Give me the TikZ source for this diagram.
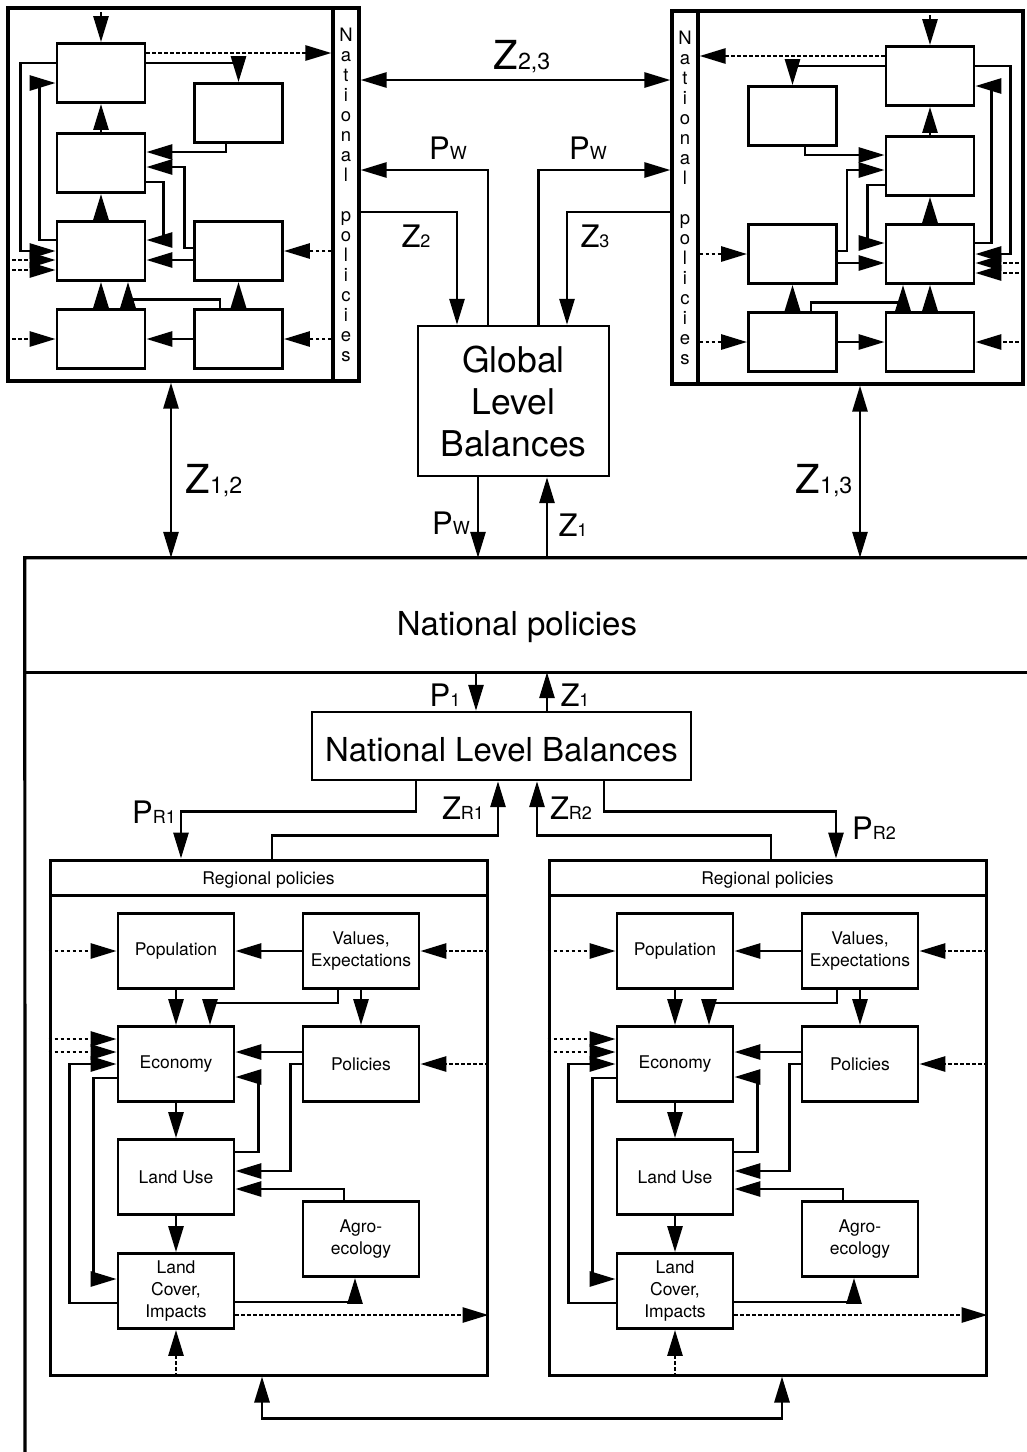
\documentclass[tikz,border=0pt]{standalone}
\usepackage{fontspec}
\setmainfont{TeX Gyre Heros}
\usepackage{graphicx}
\usetikzlibrary{arrows.meta,calc}

% small index that sits on the baseline
\newcommand{\idx}[1]{\scalebox{0.58}{#1}}

\begin{document}
\begin{tikzpicture}[
    x=1pt, y=-1pt,
    >={Triangle[length=26pt,width=15pt]},
    outline/.style={draw, line width=3.2pt, inner sep=0pt},
    modbox/.style={
        rectangle,
        draw,
        line width=2.8pt,
        inner sep=0pt,
        align=center
    },
    cellbox/.style={modbox, minimum width=88pt, minimum height=59pt},
    regbox/.style={modbox, minimum width=116pt, minimum height=75pt,
        font=\fontsize{17.5}{22}\selectfont},
    flowline/.style={draw, line width=2.8pt, ->},
    dualline/.style={draw, line width=2.8pt, <->},
    dotline/.style={draw, line width=2.8pt, dash pattern=on 3.5pt off 2.5pt, ->},
    biglabel/.style={inner sep=0pt, font=\fontsize{40}{40}\selectfont},
    zlabel/.style={inner sep=0pt, font=\fontsize{31}{31}\selectfont},
    striptext/.style={align=center, inner sep=0pt, font=\fontsize{18.5}{20}\selectfont}
]

\useasboundingbox (0,0) rectangle (1027,1452);

% --- TOP: TWO COUNTRY MODELS (right one is the mirror image) ---
\foreach \s/\xs/\xsc/\ys in {L/0/1/0, R/1031/-1/-3}{
\begin{scope}[xshift=\xs pt, yshift=\ys pt, xscale=\xsc, transform shape]
    \node[outline, minimum width=351pt, minimum height=373pt] (cty\s) at (183.5,194.5) {};
    \node[outline, minimum width=26pt, minimum height=373pt] (str\s) at (346,194.5) {};

    \node[cellbox] (lc\s) at (101,73) {};
    \node[cellbox] (ag\s) at (238.5,113) {};
    \node[cellbox] (lu\s) at (101,163) {};
    \node[cellbox] (ec\s) at (101,251) {};
    \node[cellbox] (po\s) at (238.5,251) {};
    \node[cellbox] (pp\s) at (101,339) {};
    \node[cellbox] (va\s) at (238.5,339) {};

    % links
    \draw[dotline] (lc\s.north |- cty\s.north) -- (lc\s.north);
    \draw[dotline] ([yshift=20pt]lc\s.east) -- ([yshift=141.5pt]str\s.west);
    \draw[flowline] ([yshift=10pt]lc\s.east) -| (ag\s.north);
    \draw[flowline] ([yshift=10pt]lc\s.west) -- ++(-35,0) |- (ec\s.west);
    \draw[flowline] ([yshift=11pt]ec\s.west) -- ++(-16,0) |- ([yshift=-10pt]lc\s.west);
    \draw[dotline] ([yshift=-65.5pt]cty\s.west) -- ([yshift=-9pt]ec\s.west);
    \draw[dotline] ([yshift=-75.5pt]cty\s.west) -- ([yshift=-19pt]ec\s.west);
    \draw[flowline] (lu\s.north) -- (lc\s.south);
    \draw[flowline] (ec\s.north) -- (lu\s.south);
    \draw[flowline] (pp\s.north) -- (ec\s.south);
    \draw[flowline] ([xshift=-18.5pt]va\s.north) -- ++(0,-9) -| ([xshift=27pt]ec\s.south);
    \draw[flowline] (va\s.north) -- (po\s.south);
    \draw[flowline] (va\s.west) -- (pp\s.east);
    \draw[dotline] (cty\s.west |- pp\s.west) -- (pp\s.west);
    \draw[dotline] (str\s.west |- va\s.east) -- (va\s.east);
    \draw[dotline] (str\s.west |- po\s.east) -- (po\s.east);
    \draw[flowline] ([yshift=-9pt]po\s.west) -- ([yshift=-9pt]ec\s.east);
    \draw[flowline] ([yshift=3pt]po\s.west) -- ++(-9,0) |- ([yshift=-4pt]lu\s.east);
    \draw[flowline] ([xshift=-12.5pt]ag\s.south) |- ([yshift=11pt]lu\s.east);
    \draw[flowline] ([yshift=-19pt]lu\s.east) -- ++(17,0) |- ([yshift=11pt]ec\s.east);
\end{scope}
\node[striptext] (txt\s) at (str\s) {N\\a\\t\\i\\o\\n\\a\\l\\[20pt]p\\o\\l\\i\\c\\i\\e\\s};
}

% --- GLOBAL LEVEL ---
\node[modbox, line width=2.4pt, minimum width=191pt, minimum height=150pt,
    font=\fontsize{35.5}{42}\selectfont] (glb) at (513.5,401) {Global\\Level\\Balances};

% National policies band and frame
\node[minimum width=1002pt, minimum height=114pt, inner sep=0pt,
    text height=40pt, text depth=0pt,
    font=\fontsize{33}{40}\selectfont] (natpol) at (526,615) {\kern-18pt National policies};
\coordinate (frameend) at (25,1452);
\draw[outline] (natpol.north east) -- (natpol.north west) -- (frameend);
\draw[outline] (natpol.south west) -- (natpol.south east);

\node[modbox, line width=2.4pt, minimum width=379pt, minimum height=68pt,
    text height=31pt, text depth=0pt,
    font=\fontsize{33}{40}\selectfont] (nlb) at (501.5,746) {National Level Balances};

% --- REGIONS ---
\foreach \r/\dx in {1/0, 2/499}{
\begin{scope}[xshift=\dx pt]
    \node[modbox, line width=3pt, minimum width=437pt, minimum height=515pt] (reg\r) at (268.5,1117.5) {};
    \node[modbox, line width=3pt, minimum width=437pt, minimum height=35pt,
        text height=13.5pt, text depth=0pt,
        font=\fontsize{17.5}{20}\selectfont] (hdr\r) at (268.5,877.5) {Regional policies};

    \node[regbox] (pop\r) at (176,951) {Population};
    \node[regbox] (val\r) at (361,951) {Values,\\Expectations};
    \node[regbox] (eco\r) at (176,1064) {Economy};
    \node[regbox] (pol\r) at (361,1064) {Policies};
    \node[regbox] (lus\r) at (176,1177) {Land Use};
    \node[regbox] (agr\r) at (361,1239) {Agro-\\ecology};
    \node[regbox] (lcv\r) at (176,1291) {Land\\Cover,\\Impacts};

    % links
    \draw[dotline] (reg\r.west |- pop\r.west) -- (pop\r.west);
    \draw[flowline] (val\r.west) -- (pop\r.east);
    \draw[dotline] (reg\r.east |- val\r.east) -- (val\r.east);
    \draw[flowline] (pop\r.south) -- (eco\r.north);
    \draw[flowline] ([xshift=-23pt]val\r.south) -- ++(0,13) -| ([xshift=34pt]eco\r.north);
    \draw[flowline] (val\r.south) -- (pol\r.north);
    \draw[dotline] ([yshift=78.5pt]reg\r.west) -- ([yshift=25pt]eco\r.west);
    \draw[dotline] ([yshift=65.5pt]reg\r.west) -- ([yshift=12pt]eco\r.west);
    \draw[flowline] ([yshift=12pt]pol\r.west) -- ([yshift=12pt]eco\r.east);
    \draw[dotline] (reg\r.east |- pol\r.east) -- (pol\r.east);
    \draw[flowline] ([yshift=25pt]lus\r.east) -- ++(23,0) |- ([yshift=-13pt]eco\r.east);
    \draw[flowline] (pol\r.west) -- ++(-11,0) |- ([yshift=6pt]lus\r.east);
    \draw[flowline] ([xshift=-17pt]agr\r.north) |- ([yshift=-12pt]lus\r.east);
    \draw[flowline] (eco\r.south) -- (lus\r.north);
    \draw[flowline] (lus\r.south) -- (lcv\r.north);
    \draw[flowline] ([yshift=-12pt]lcv\r.west) -- ++(-47,0) |- (eco\r.west);
    \draw[flowline] ([yshift=-14pt]eco\r.west) -- ++(-23,0) |- ([yshift=12pt]lcv\r.west);
    \draw[flowline] ([yshift=-11pt]lcv\r.east) -| ([xshift=-6pt]agr\r.south);
    \draw[dotline] ([yshift=-24pt]lcv\r.east) -- ([yshift=-197.5pt]reg\r.east);
    \draw[dotline] (lcv\r.south |- reg\r.south) -- (lcv\r.south);
\end{scope}
}

% --- PATHS BETWEEN LEVELS ---
% mirrored strip: its east anchor faces the centre
\draw[dualline] ([yshift=114.5pt]strL.east) -- ([yshift=117.5pt]strR.east);
\draw[flowline] ([xshift=-25.5pt]glb.north) |- ([yshift=24.5pt]strL.east);
\draw[flowline] ([xshift=25pt]glb.north) |- ([yshift=27.5pt]strR.east);
\draw[flowline] ([yshift=-17.5pt]strL.east) -| ([xshift=-56.5pt]glb.north);
\draw[flowline] ([yshift=-14.5pt]strR.east) -| ([xshift=53.5pt]glb.north);
\draw[flowline] ([xshift=-35.5pt]glb.south) -- ([xshift=-48pt]natpol.north);
\draw[flowline] ([xshift=21pt]natpol.north) -- ([xshift=33.5pt]glb.south);
\draw[dualline] ([xshift=-12.5pt]ctyL.south) -- ([xshift=-355pt]natpol.north);
\draw[dualline] ([xshift=12.5pt]ctyR.south) -- ([xshift=334pt]natpol.north);

\draw[flowline] ([xshift=-50pt]natpol.south) -- ([xshift=-25.5pt]nlb.north);
\draw[flowline] ([xshift=45.5pt]nlb.north) -- ([xshift=21pt]natpol.south);
\draw[flowline] ([xshift=-85.5pt]nlb.south) -- ++(0,30) -| ([xshift=-87.5pt]hdr1.north);
\draw[flowline] ([xshift=3.5pt]hdr1.north) -- ++(0,-23) -| ([xshift=-3.5pt]nlb.south);
\draw[flowline] ([xshift=3.5pt]hdr2.north) -- ++(0,-23) -| ([xshift=35.5pt]nlb.south);
\draw[flowline] ([xshift=102.5pt]nlb.south) -- ++(0,30) -| ([xshift=68.5pt]hdr2.north);
\draw[dualline] ([xshift=-6.5pt]reg1.south) -- ++(0,42) -| ([xshift=14.5pt]reg2.south);

% Labels
\node[biglabel] (lz23) at (522,57) {Z\idx{2,3}};
\node[zlabel] (lpw1) at (448,148) {P\idx{W}};
\node[zlabel] (lpw2) at (588,148) {P\idx{W}};
\node[zlabel] (lz2) at (416,236) {Z\idx{2}};
\node[zlabel] (lz3) at (595,236) {Z\idx{3}};
\node[biglabel] (lz12) at (214,481) {Z\idx{1,2}};
\node[biglabel] (lz13) at (824,481) {Z\idx{1,3}};
\node[zlabel] (lpw3) at (451,523) {P\idx{W}};
\node[zlabel] (lz1a) at (573,525) {Z\idx{1}};
\node[zlabel] (lp1) at (445,695) {P\idx{1}};
\node[zlabel] (lz1b) at (575,695) {Z\idx{1}};
\node[zlabel] (lpr1) at (154,812) {P\idx{R1}};
\node[zlabel] (lzr1) at (463,808) {Z\idx{R1}};
\node[zlabel] (lzr2) at (571,808) {Z\idx{R2}};
\node[zlabel] (lpr2) at (874,828) {P\idx{R2}};

\end{tikzpicture}
\end{document}
